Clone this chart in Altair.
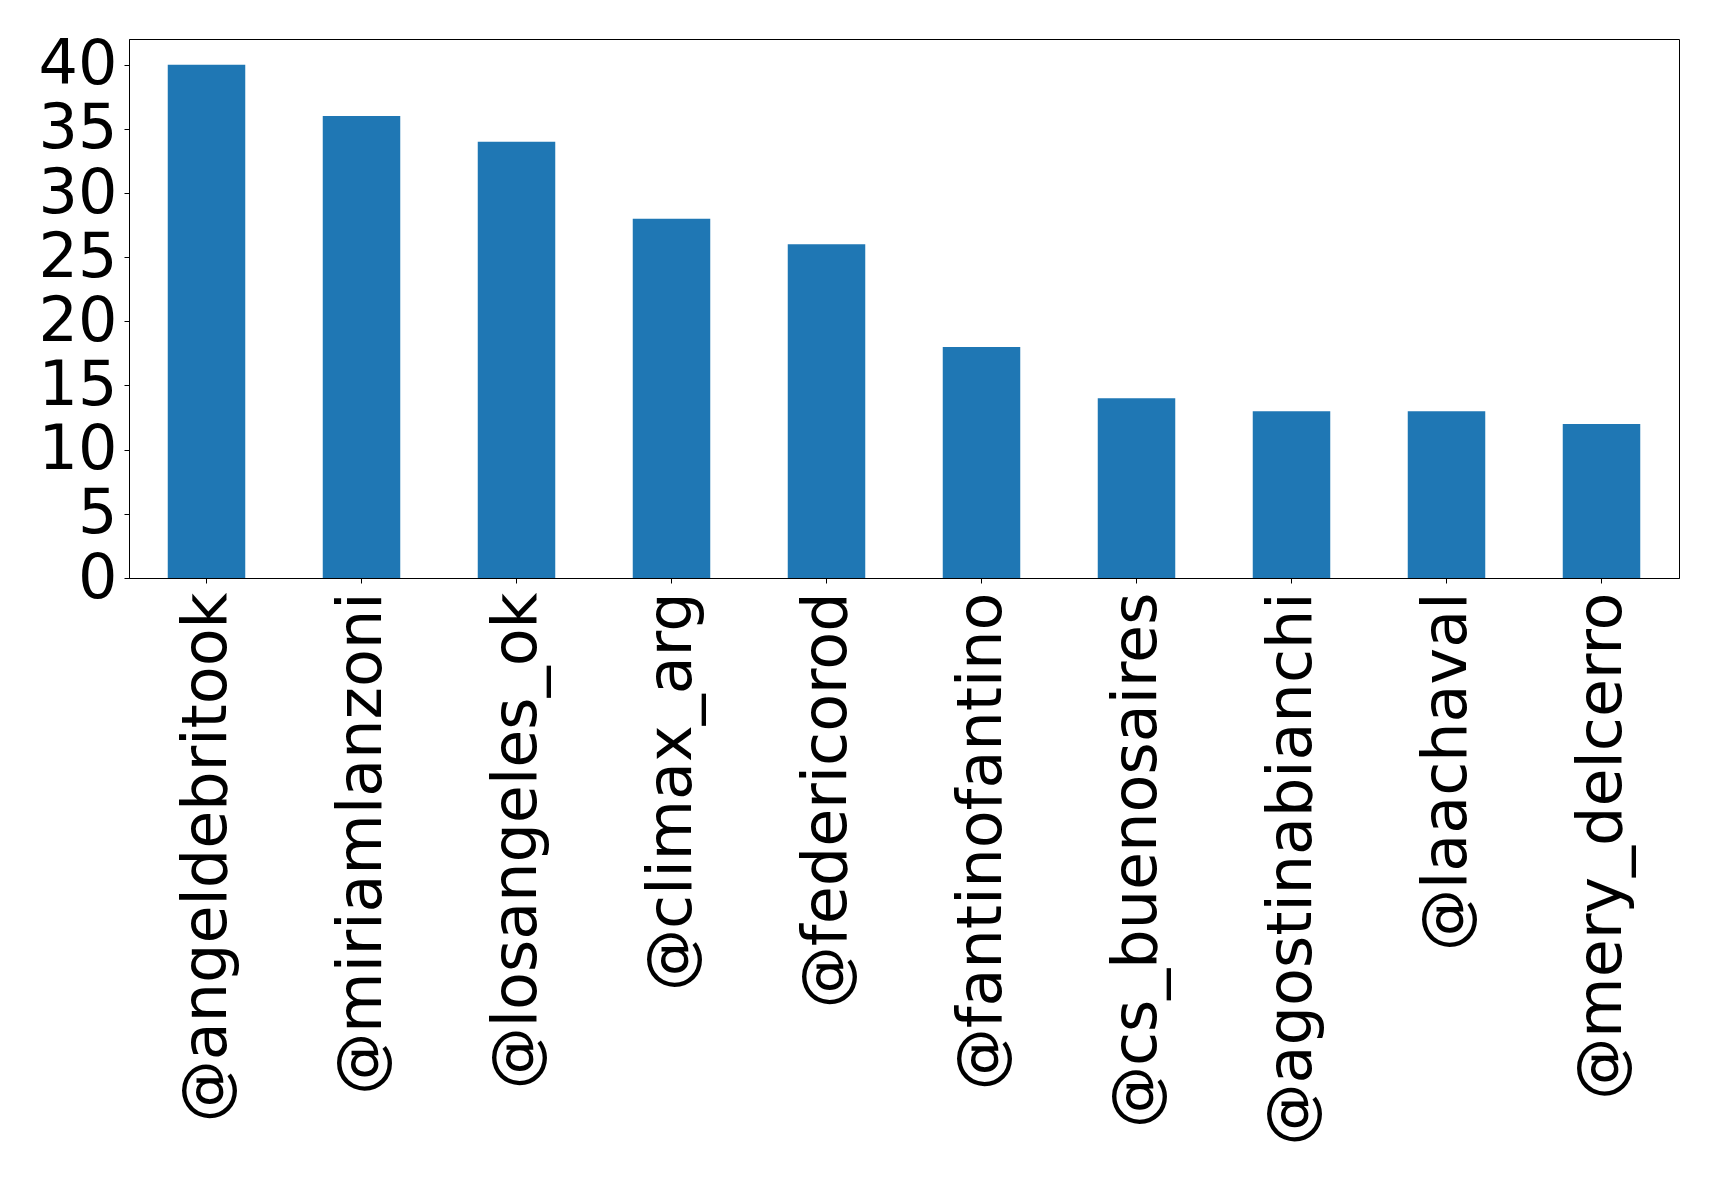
import altair as alt
import pandas as pd

accounts = ["@angeldebritook", "@miriamlanzoni", "@losangeles_ok", "@climax_arg",
            "@federicorod", "@fantinofantino", "@cs_buenosaires", "@agostinabianchi",
            "@laachaval", "@mery_delcerro"]
counts = [40, 36, 34, 28, 26, 18, 14, 13, 13, 12]
y_ticks = [0, 5, 10, 15, 20, 25, 30, 35, 40]

df = pd.DataFrame({"account": accounts, "count": counts})

chart = alt.Chart(df).mark_bar(color="#1f77b4").encode(
    x=alt.X("account:N", sort=accounts, title=None,
            scale=alt.Scale(paddingInner=0.5, paddingOuter=0.25),
            axis=alt.Axis(labelAngle=-90, labelFontSize=62, labelFont="DejaVu Sans",
                          labelColor="black", tickColor="black", tickSize=5,
                          tickWidth=1, domainColor="black", labelPadding=9,
                          labelLimit=1000, grid=False)),
    y=alt.Y("count:Q", title=None,
            scale=alt.Scale(domain=[0, 42], nice=False, zero=True),
            axis=alt.Axis(values=y_ticks, labelFontSize=62, labelFont="DejaVu Sans",
                          labelColor="black", tickColor="black", tickSize=5,
                          tickWidth=1, domainColor="black", labelPadding=7,
                          grid=False)),
).properties(
    width=1550,
    height=539,
    background="white",
    autosize=alt.AutoSizeParams(type="none"),
    padding={"left": 121, "top": 31, "right": 30, "bottom": 600},
).configure_view(
    stroke="black", strokeWidth=1
)

chart.save("out.html", embed_options={"renderer": "svg", "actions": False})
